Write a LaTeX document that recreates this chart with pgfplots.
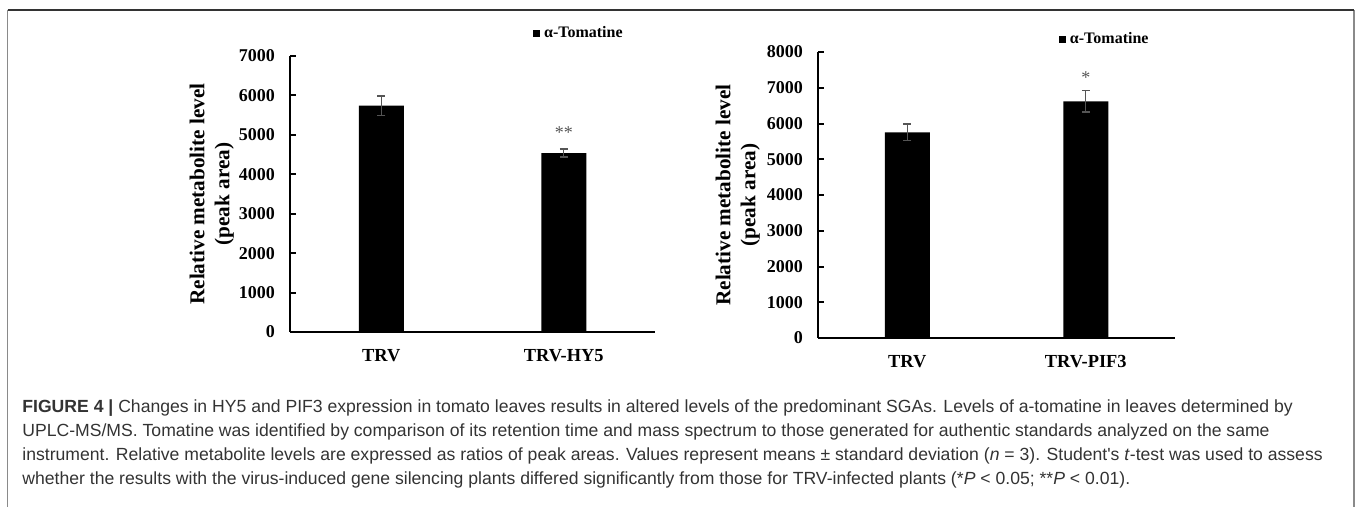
\documentclass[border=0pt]{standalone}
\usepackage{pgfplots}
\pgfplotsset{compat=1.18}
\usepackage{fontspec}
\setmainfont{Liberation Serif}
\newfontfamily\capfont{Liberation Sans}
\definecolor{capgray}{HTML}{333333}
\definecolor{errgray}{HTML}{555555}
\definecolor{framegray}{HTML}{8A8A8A}

\pgfplotsset{
  barchart/.style={
    scale only axis,
    anchor=south west,
    axis lines*=left,
    axis line style={line width=1.1pt, black, -},
    xmin=-0.5, xmax=1.5,
    ymin=0,
    xtick=data,
    major x tick style={draw=none},
    tick align=inside,
    major tick length=3pt,
    ytick style={line width=1pt, black},
    /pgf/number format/assume math mode=true,
    /pgf/number format/set thousands separator={},
    yticklabel style={font=\fontsize{9}{10}\selectfont\bfseries, xshift=-4pt},
    xticklabel style={font=\fontsize{9.2}{10}\selectfont\bfseries, yshift=-5pt},
    ylabel style={font=\fontsize{10.6}{12.5}\selectfont\bfseries, align=center},
    legend style={draw=none, fill=none, font=\fontsize{8}{9}\selectfont\bfseries,
      inner sep=0pt, outer sep=0pt, anchor=west},
    legend image code/.code={\fill[black] (0pt,-1.75pt) rectangle (3.5pt,1.75pt);},
    clip=false,
  },
  tomabar/.style={
    ybar, bar width=22.5pt, fill=black, draw=none,
    error bars/.cd, y dir=both, y explicit,
    error bar style={line width=0.65pt, errgray},
    error mark options={rotate=90, mark size=2pt, line width=0.65pt, errgray},
  },
}

\begin{document}
\begin{tikzpicture}
\path[use as bounding box] (0,0) rectangle (680pt,-253.5pt);

% frame
\draw[framegray, line width=0.7pt] (3.75pt,-254pt) -- (3.75pt,-5pt);
\draw[framegray, line width=0.7pt] (677pt,-254pt) -- (677pt,-5pt);
\draw[capgray, line width=0.7pt] (3.75pt,-5pt) -- (677pt,-5pt);

% left chart
\begin{axis}[barchart,
  at={(145pt,-166pt)},
  width=182.5pt, height=138pt,
  ymax=7000, ytick={0,1000,...,7000},
  xticklabels={TRV,TRV-HY5},
  ylabel={Relative metabolite level\\(peak area)},
  ylabel style={at={(axis description cs:-0.214,0.5)}, anchor=center, rotate=0},
  legend style={at={(axis description cs:0.666,1.083)}},
]
\addplot[tomabar] coordinates {(0,5740) +- (0,245) (1,4540) +- (0,105)};
\addlegendentry{α-Tomatine}
\node[font=\fontsize{9}{10}\selectfont, text=errgray] at (axis cs:1,5070) {**};
\end{axis}

% right chart
\begin{axis}[barchart,
  at={(409pt,-169pt)},
  width=178.5pt, height=143pt,
  ymax=8000, ytick={0,1000,...,8000},
  xticklabels={TRV,TRV-PIF3},
  ylabel={Relative metabolite level\\(peak area)},
  ylabel style={at={(axis description cs:-0.225,0.5)}, anchor=center, rotate=0},
  legend style={at={(axis description cs:0.675,1.045)}},
]
\addplot[tomabar] coordinates {(0,5750) +- (0,235) (1,6620) +- (0,295)};
\addlegendentry{α-Tomatine}
\node[font=\fontsize{9}{10}\selectfont, text=errgray] at (axis cs:1,7270) {*};
\end{axis}

% caption
\begin{scope}[every node/.style={anchor=base west, inner sep=0pt, text=capgray,
      font=\capfont\fontsize{8.8}{12}\selectfont}]
\node at (11pt,-206.5pt) {\textbf{FIGURE 4 |} Changes in HY5 and PIF3 expression in tomato leaves results in altered levels of the predominant SGAs. Levels of a-tomatine in leaves determined by};
\node at (11pt,-218.5pt) {UPLC-MS/MS. Tomatine was identified by comparison of its retention time and mass spectrum to those generated for authentic standards analyzed on the same};
\node at (11pt,-230.5pt) {instrument. Relative metabolite levels are expressed as ratios of peak areas. Values represent means ± standard deviation (\textit{n} = 3). Student's \textit{t}-test was used to assess};
\node at (11pt,-242.5pt) {whether the results with the virus-induced gene silencing plants differed significantly from those for TRV-infected plants (*\textit{P} < 0.05; **\textit{P} < 0.01).};
\end{scope}
\end{tikzpicture}
\end{document}
